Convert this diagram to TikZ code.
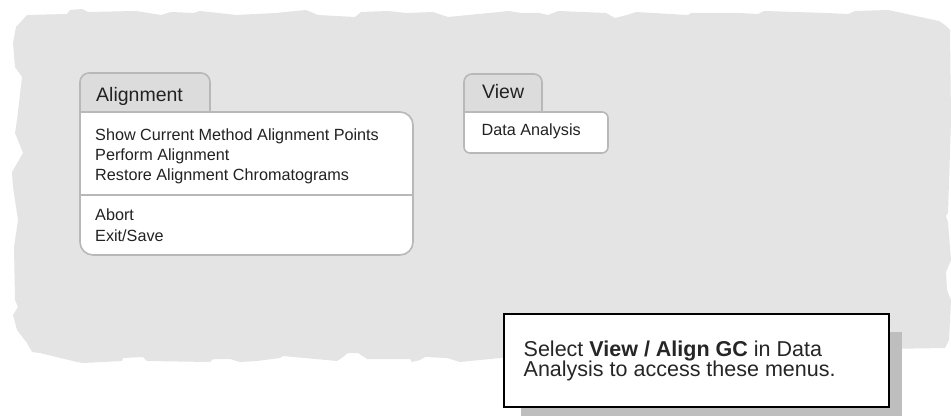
\documentclass[tikz,border=0pt]{standalone}
\usepackage{fontspec}
\setmainfont{Liberation Sans}
\usetikzlibrary{positioning, backgrounds}
\definecolor{papergray}{RGB}{228,228,228}
\definecolor{tabgray}{RGB}{220,220,220}
\definecolor{rimgray}{RGB}{184,184,184}
\definecolor{shadowgray}{RGB}{190,190,190}
\definecolor{menutext}{RGB}{34,34,34}

\begin{document}
\begin{tikzpicture}[x=1pt, y=-1pt,
  tab/.style={fill=tabgray, draw=rimgray, line width=1.6pt},
  panel/.style={fill=white, draw=rimgray, line width=1.6pt},
  tabtitle/.style={anchor=base west, inner sep=0pt, text=menutext,
                   font=\fontsize{19.5}{20}\selectfont},
  menuitem/.style={anchor=base west, inner sep=0pt, text=menutext,
                   font=\fontsize{16.2}{19}\selectfont},
  callbox/.style={draw=black, line width=2.2pt, fill=white,
                  minimum width=385pt, minimum height=93pt, inner sep=0pt},
  calltext/.style={anchor=base west, inner sep=0pt, text=black!85,
                   font=\fontsize{21.5}{21}\selectfont}]
  \useasboundingbox (0,0) rectangle (951,417);

  % Alignment menu
  \filldraw[tab, rounded corners=9pt] (80,113) -- (80,73) -- (210,73) -- (210,113);
  \filldraw[panel, rounded corners=13pt] (80,112) -- (413,112) -- (413,255)
    -- (80,255) -- (80,112);
  \draw[rimgray, line width=1.6pt] (80,195) -- (413,195);
  \node[tabtitle] (aligntitle) at (96,101.5) {Alignment};
  \node[menuitem] (showpts) at (95,141) {Show Current Method Alignment Points};
  \node[menuitem] (perform) at (95,161) {Perform Alignment};
  \node[menuitem] (restore) at (95,181) {Restore Alignment Chromatograms};
  \node[menuitem] (abort) at (95,221) {Abort};
  \node[menuitem] (exitsave) at (95,241) {Exit/Save};

  % View menu
  \filldraw[tab, rounded corners=8pt] (464,113) -- (464,74) -- (542,74) -- (542,113);
  \filldraw[panel, rounded corners=6pt] (464,112) -- (608,112) -- (608,153)
    -- (464,153) -- (464,112);
  \node[tabtitle] (viewtitle) at (482,98.3) {View};
  \node[menuitem] (dataitem) at (481.5,135.7) {Data Analysis};

  % note box
  \node[callbox] (callout) at (696.5,360.5) {};
  \node[calltext] (noteline1) at (523.5,356.7) {Select \textbf{View / Align GC} in Data};
  \node[calltext] (noteline2) at (523.5,376.7) {Analysis to access these menus.};

  \begin{scope}[on background layer]
    % torn paper backdrop
    \fill[papergray] (27,15) -- (67,14) -- (70,10) -- (82,9) -- (88,12) -- (136,11)
      -- (161,15) -- (171,12) -- (194,13) -- (200,11) -- (236,15) -- (276,13)
      -- (306,10) -- (318,15) -- (355,17) -- (361,12) -- (388,11) -- (406,13)
      -- (433,12) -- (448,17) -- (509,11) -- (521,13) -- (539,13) -- (548,15)
      -- (558,11) -- (606,13) -- (615,18) -- (627,15) -- (636,12) -- (688,15)
      -- (691,13) -- (739,13) -- (758,14) -- (764,11) -- (827,13) -- (848,14)
      -- (855,11) -- (888,10) -- (939,21) -- (945,25) -- (950,30)
      -- (951,120) -- (948,213) -- (946,216) -- (948,222) -- (951,260)
      -- (946,272) -- (947,290) -- (951,300) -- (949,340) -- (945,348)
      -- (700,352) -- (500,358) -- (460,362) -- (447,358) -- (425,357)
      -- (420,360) -- (412,362) -- (410,359) -- (367,359) -- (358,353)
      -- (348,353) -- (343,357) -- (337,361) -- (283,356) -- (280,358)
      -- (257,361) -- (240,362) -- (230,359) -- (213,359) -- (210,362)
      -- (147,361) -- (143,357) -- (123,358) -- (122,361) -- (83,363)
      -- (77,362) -- (40,353) -- (32,352) -- (27,343) -- (17,330) -- (13,315)
      -- (18,307) -- (15,300) -- (14,247) -- (18,220) -- (13,187) -- (12,172)
      -- (23,153) -- (15,133) -- (17,120) -- (22,77) -- (15,67) -- (13,43)
      -- (16,27) -- cycle;
    % drop shadow of the note
    \fill[shadowgray] ([shift={(18,19)}]callout.north west)
      rectangle ([shift={(12,8)}]callout.south east);
  \end{scope}
\end{tikzpicture}
\end{document}
